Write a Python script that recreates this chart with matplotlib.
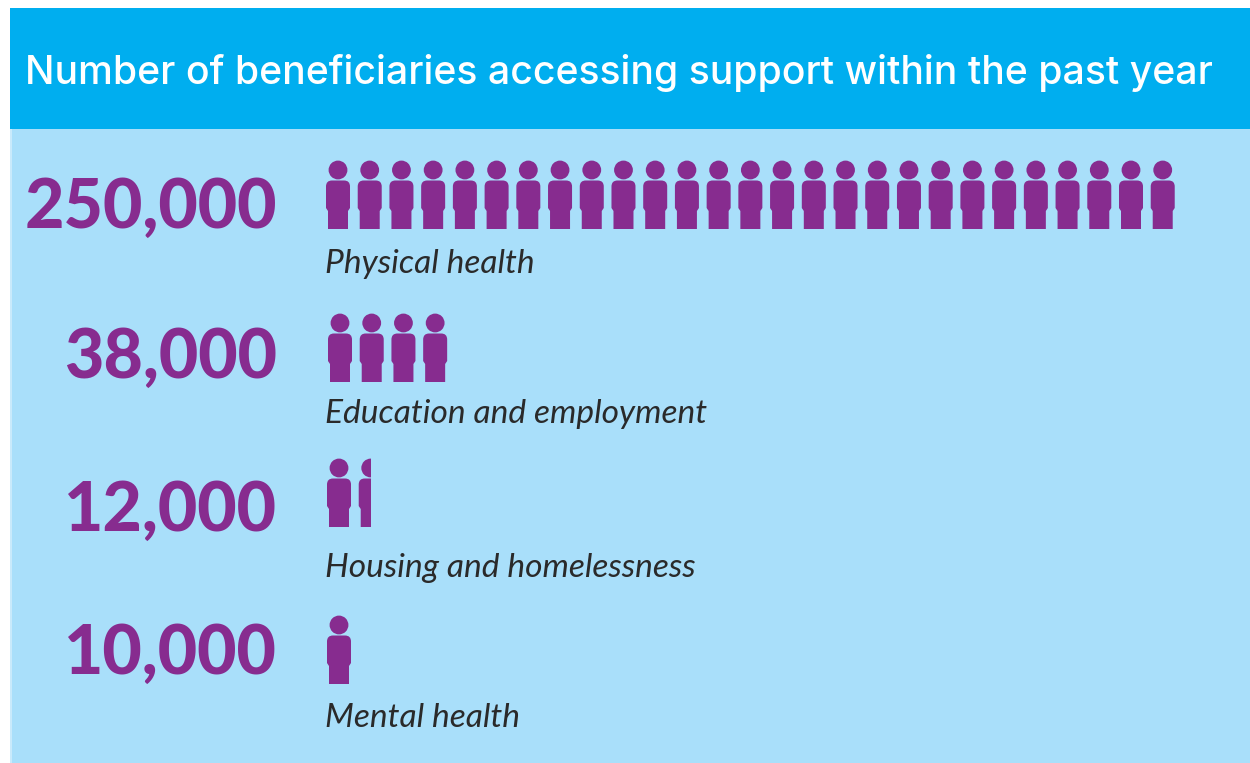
import matplotlib
matplotlib.use("Agg")
import matplotlib.pyplot as plt
from matplotlib.patches import Circle, PathPatch, Rectangle
from matplotlib.path import Path

title = "Number of beneficiaries accessing support within the past year"
numbers = ["250,000", "38,000", "12,000", "10,000"]
labels = ["Physical health", "Education and employment", "Housing and homelessness", "Mental health"]
icons = [27, 4, 1.5, 1]

# layout, pixels of the reference
head_y = [170, 323, 468, 625]
first_x = [338, 340, 339, 339]
number_y = [228, 378, 531, 674]
label_y = [273, 423, 577, 727]
step = 31.72

cyan = "#00AEEF"
pale = "#A9DFFA"
purple = "#872C8F"


def body(cx, hy):
    top = hy + 10.5
    sh = hy + 38
    bot = hy + 59
    verts = [(cx - 12, top + 6), (cx - 12, top), (cx - 6, top), (cx + 6, top), (cx + 12, top), (cx + 12, top + 6),
             (cx + 12, sh), (cx + 10, sh + 3), (cx + 10, bot), (cx - 10, bot), (cx - 10, sh + 3), (cx - 12, sh),
             (cx - 12, top + 6)]
    codes = [Path.MOVETO, Path.CURVE3, Path.CURVE3, Path.LINETO, Path.CURVE3, Path.CURVE3,
             Path.LINETO, Path.LINETO, Path.LINETO, Path.LINETO, Path.LINETO, Path.LINETO, Path.CLOSEPOLY]
    return Path(verts, codes)


def person(ax, cx, hy, part=1.0):
    left = cx - 13
    clip = Rectangle((left, hy - 12), 26 * part, 75, transform=ax.transData)
    head = Circle((cx, hy), 9.4, fc=purple, ec="none")
    trunk = PathPatch(body(cx, hy), fc=purple, ec="none")
    for p in (head, trunk):
        ax.add_patch(p)
        p.set_clip_path(clip)


fig = plt.figure(figsize=(12.5, 7.63), dpi=100)
ax = fig.add_axes([0, 0, 1, 1])
ax.set_xlim(0, 1250)
ax.set_ylim(763, 0)
ax.axis("off")

ax.add_patch(Rectangle((10, 129), 1240, 634, fc=pale, ec="none"))
ax.add_patch(Rectangle((10, 129), 2, 634, fc="#C9EAFB", ec="none"))
ax.add_patch(Rectangle((10, 8), 1240, 121, fc=cyan, ec="none"))

ax.text(25, 84, title, color="white", fontsize=28.2, family="Inter", weight="medium", va="baseline")

for i in range(len(numbers)):
    ax.text(277, number_y[i], numbers[i], color=purple, fontsize=49, family="Lato", weight="black",
            ha="right", va="baseline")
    ax.text(325, label_y[i], labels[i], color="#2a2a2a", fontsize=24.1, family="Lato", style="italic",
            va="baseline")
    n = icons[i]
    k = 0
    while n > 0:
        person(ax, first_x[i] + k * step, head_y[i], min(n, 1))
        n -= 1
        k += 1

fig.savefig("out.png", dpi=100)
